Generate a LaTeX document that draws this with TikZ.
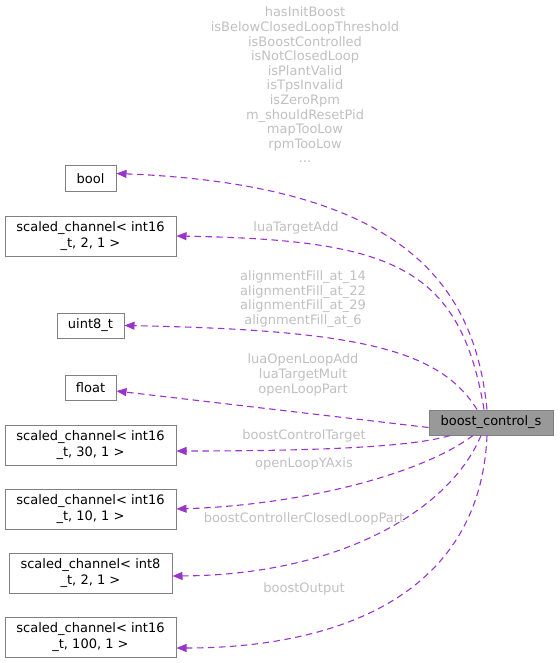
\documentclass[tikz,border=0pt]{standalone}
\usepackage{fontspec}
\setmainfont{DejaVu Sans}
\usetikzlibrary{arrows.meta}
\definecolor{edgec}{HTML}{9A32CD}
\definecolor{lblc}{HTML}{C0C0C0}
\definecolor{boxc}{HTML}{808080}
\definecolor{mainfill}{HTML}{999999}
\begin{document}
\begin{tikzpicture}[x=1pt,y=-1pt,
  box/.style={draw=boxc, line width=1pt, fill=white, inner sep=0pt, align=center,
    font=\fontsize{13}{15.5}\selectfont},
  lbl/.style={text=lblc, align=center, inner sep=0pt, font=\fontsize{13}{14.6}\selectfont},
  edge/.style={draw=edgec, line width=1.1pt, dash pattern=on 6.5pt off 4.5pt,
    -{Triangle[length=10pt,width=8pt]}}
]
\useasboundingbox (0,0) rectangle (559,663);
% nodes
\node[box, minimum width=51pt, minimum height=25pt] (bool) at (90.5,178.5) {bool};
\node[box, minimum width=171pt, minimum height=40pt] (sca) at (90.5,236) {scaled\_channel< int16\\\_t, 2, 1 >};
\node[box, minimum width=67pt, minimum height=25pt] (u8) at (90.5,325.5) {uint8\_t};
\node[box, minimum width=51pt, minimum height=25pt] (flt) at (90.5,387.5) {float};
\node[box, minimum width=171pt, minimum height=40pt] (scb) at (90.5,445) {scaled\_channel< int16\\\_t, 30, 1 >};
\node[box, minimum width=171pt, minimum height=40pt] (scc) at (90.5,509) {scaled\_channel< int16\\\_t, 10, 1 >};
\node[box, minimum width=163pt, minimum height=40pt] (scd) at (90.5,573) {scaled\_channel< int8\\\_t, 2, 1 >};
\node[box, minimum width=171pt, minimum height=40pt] (sce) at (90.5,637) {scaled\_channel< int16\\\_t, 100, 1 >};
\node[box, fill=mainfill, minimum width=124pt, minimum height=25pt] (bcs) at (491,422.5) {boost\_control\_s};
% labels
\node[lbl] (l1) at (305,85) {hasInitBoost\\isBelowClosedLoopThreshold\\isBoostControlled\\isNotClosedLoop\\isPlantValid\\isTpsInvalid\\isZeroRpm\\m\_shouldResetPid\\mapTooLow\\rpmTooLow\\...};
\node[lbl] (l2) at (296,227.5) {luaTargetAdd};
\node[lbl] (l3) at (303,299) {alignmentFill\_at\_14\\alignmentFill\_at\_22\\alignmentFill\_at\_29\\alignmentFill\_at\_6};
\node[lbl] (l4) at (303,375) {luaOpenLoopAdd\\luaTargetMult\\openLoopPart};
\node[lbl] (l5) at (304,435.5) {boostControlTarget};
\node[lbl] (l6) at (304,464) {openLoopYAxis};
\node[lbl] (l7) at (304,519) {boostControllerClosedLoopPart};
\node[lbl] (l8) at (304,589) {boostOutput};
% edges
\draw[edge] ([xshift=-4pt]bcs.north) .. controls (475,290) and (410,185) .. ([yshift=5pt]bool.east);
\draw[edge] ([xshift=-7pt]bcs.north) .. controls (460,265) and (390,240) .. (sca.east);
\draw[edge] ([xshift=-14pt]bcs.north) .. controls (440,350) and (360,330) .. (u8.east);
\draw[edge] ([yshift=-5pt]bcs.west) -- ([yshift=-3.5pt]flt.east);
\draw[edge] ([xshift=-41pt]bcs.south) .. controls (410,448) and (300,451) .. ([yshift=-6pt]scb.east);
\draw[edge] ([xshift=-18pt]bcs.south) .. controls (420,475) and (300,505) .. (scc.east);
\draw[edge] ([xshift=-10pt]bcs.south) .. controls (450,510) and (340,575) .. ([yshift=-3pt]scd.east);
\draw[edge] ([xshift=-4pt]bcs.south) .. controls (480,600) and (330,648) .. ([yshift=-11pt]sce.east);
\end{tikzpicture}
\end{document}
